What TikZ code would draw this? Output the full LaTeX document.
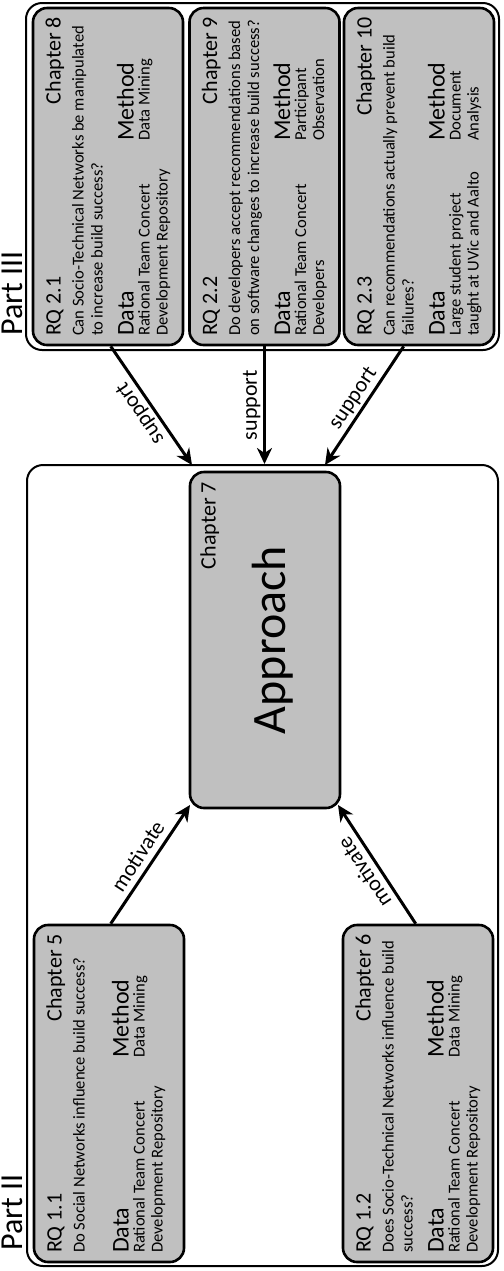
\documentclass[tikz,border=0pt]{standalone}
\usepackage{fontspec}
\setmainfont{Carlito}
\usetikzlibrary{arrows.meta,calc}
\definecolor{boxgray}{RGB}{192,192,192}
\def\hoff{0}
\newcommand\boxtext[9]{%
  \node[bigtxt,anchor=base west] (#1-rq) at ($(#1.south west)+(29,-10)$) {#2};
  \node[bigtxt,anchor=base east] (#1-ch) at ($(#1.north west)+(29,10)$) {#3};
  \node[smalltxt,anchor=base west] (#1-q1) at ($(#1.south west)+(52,-10)$) {#4};
  \node[smalltxt,anchor=base west] (#1-q2) at ($(#1.south west)+(71,-10)$) {#5};
  \node[headtxt,anchor=base west] (#1-dh) at ($(#1.south west)+(102+\hoff,-10)$) {Data};
  \node[headtxt,anchor=base west] (#1-mh) at ($(#1.south west)+(102+\hoff,-205)$) {Method};
  \node[smalltxt,anchor=base west] (#1-d1) at ($(#1.south west)+(118+\hoff,-10)$) {#6};
  \node[smalltxt,anchor=base west] (#1-d2) at ($(#1.south west)+(136+\hoff,-10)$) {#7};
  \node[smalltxt,anchor=base west] (#1-m1) at ($(#1.south west)+(118+\hoff,-205)$) {#8};
  \node[smalltxt,anchor=base west] (#1-m2) at ($(#1.south west)+(136+\hoff,-205)$) {#9};
}
\begin{document}
\begin{tikzpicture}[x=0.5pt,y=-0.5pt,
  outerbox/.style={draw,line width=1pt,rounded corners=8pt,inner sep=0pt},
  chbox/.style={draw,line width=1.3pt,fill=boxgray,rounded corners=7pt,inner sep=0pt,
     minimum width=75pt,minimum height=168.5pt},
  bigtxt/.style={font=\fontsize{11}{13}\selectfont,rotate=90,inner sep=0pt},
  headtxt/.style={font=\fontsize{12}{14}\selectfont,rotate=90,inner sep=0pt},
  smalltxt/.style={font=\fontsize{8.3}{10}\selectfont,rotate=90,inner sep=0pt},
  parttxt/.style={font=\fontsize{16}{18}\selectfont,rotate=90,inner sep=0pt},
  apptxt/.style={font=\fontsize{24}{28}\selectfont,rotate=90,inner sep=0pt},
  arr/.style={line width=1.5pt,-{Stealth[length=8pt,width=7.5pt,inset=2.5pt]}},
  elabel/.style={font=\fontsize{11}{13}\selectfont,anchor=south,inner sep=0.8pt,text depth=2.3pt}]
\useasboundingbox (0,0) rectangle (504,1271);
% outer boxes
\node[outerbox,minimum width=236.5pt,minimum height=173.5pt] (p3) at (262.5,176.5) {};
\node[outerbox,minimum width=235.5pt,minimum height=400.5pt] (p2) at (262.5,865.5) {};
\node[parttxt,anchor=base west] (p3lab) at (22,336) {Part III};
\node[parttxt,anchor=base west] (p2lab) at (22,1251) {Part II};
% chapter boxes
\node[chbox] (ch8) at (108,176.5) {};
\node[chbox] (ch9) at (264.5,176.5) {};
\node[chbox] (ch10) at (419,176.5) {};
\node[chbox] (ch5) at (109,1093.5) {};
\node[chbox] (ch6) at (418,1093.5) {};
\node[chbox,minimum height=168pt] (app) at (265,640) {};
\boxtext{ch8}{RQ 2.1}{Chapter 8}{Can Socio-Technical Networks be manipulated}{to increase build success?}{Rational Team Concert}{Development Repository}{Data Mining}{}
\boxtext{ch9}{RQ 2.2}{Chapter 9}{Do developers accept recommendations based}{on software changes to increase build success?}{Rational Team Concert}{Developers}{Participant}{Observation}
\boxtext{ch10}{RQ 2.3}{Chapter 10}{Can recommendations actually prevent build}{failures?}{Large student project}{taught at UVic and Aalto}{Document}{Analysis}
\boxtext{ch6}{RQ 1.2}{Chapter 6}{Does Socio-Technical Networks influence build}{success?}{Rational Team Concert}{Development Repository}{Data Mining}{}
\def\hoff{-6}
\boxtext{ch5}{RQ 1.1}{Chapter 5}{Do Social Networks influence build success?}{}{Rational Team Concert}{Development Repository}{Data Mining}{}
% approach text
\node[bigtxt,anchor=base east] (app-ch) at ($(app.north west)+(27,11)$) {Chapter 7};
\node[apptxt,anchor=base] (app-t) at ($(app.west)+(97,0)$) {Approach};
% arrow end points
\coordinate (t1) at (192,465);
\coordinate (t3) at (325,465);
\coordinate (m1) at (190,805);
\coordinate (m2) at (338,805);
\draw[arr] ($(ch8.south west)+(79,0)$) -- node[elabel,rotate=123.7] {support} (t1);
\draw[arr] (ch9.south) -- node[elabel,rotate=90] {support} (ch9.south |- p2.north);
\draw[arr] ($(ch10.south west)+(61,0)$) -- node[elabel,rotate=56.3] {support} (t3);
\draw[arr] ($(ch5.north west)+(78,0)$) -- node[elabel,rotate=57] {motivate} (m1);
\draw[arr] ($(ch6.north west)+(74,0)$) -- node[elabel,rotate=123.4] {motivate} (m2);
\end{tikzpicture}
\end{document}
